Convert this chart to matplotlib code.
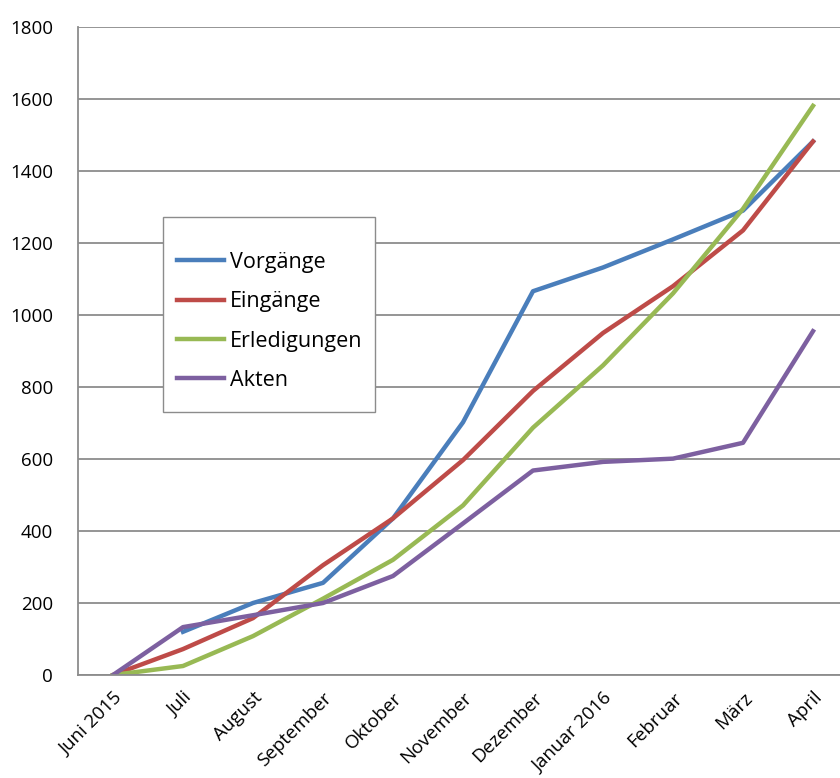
import matplotlib
matplotlib.use('Agg')
import matplotlib.pyplot as plt
from matplotlib.patches import Rectangle
import numpy as np

months = ['Juni 2015', 'Juli', 'August', 'September', 'Oktober', 'November',
          'Dezember', 'Januar 2016', 'Februar', 'März', 'April']

vorgaenge = [np.nan, 120, 200, 256, 435, 702, 1066, 1132, 1210, 1290, 1482]
eingaenge = [0, 72, 158, 305, 435, 597, 789, 950, 1080, 1235, 1482]
erledigungen = [0, 25, 108, 212, 320, 471, 687, 860, 1060, 1295, 1581]
akten = [0, 133, 166, 200, 275, 421, 568, 592, 601, 645, 955]

plt.rcParams['font.family'] = ['Open Sans', 'DejaVu Sans']

fig = plt.figure(figsize=(8.4, 7.78), dpi=100)
ax = fig.add_axes([78/840, 1-675/778, 770/840, 648/778])

x = np.arange(len(months))
LW = 3.2
ax.plot(x, vorgaenge, color='#4A7EBB', lw=LW, label='Vorgänge')
ax.plot(x, eingaenge, color='#BE4B48', lw=LW, label='Eingänge')
ax.plot(x, erledigungen, color='#98B954', lw=LW, label='Erledigungen')
ax.plot(x, akten, color='#7D60A0', lw=LW, label='Akten')

ax.set_xlim(-0.5, len(months) - 0.5)
ax.set_ylim(0, 1800)
ax.set_yticks(np.arange(0, 1801, 200))
ax.yaxis.grid(True, color='#8c8c8c', lw=1.3)
ax.set_axisbelow(True)
ax.set_xticks(x)
ax.set_xticklabels(months, rotation=45, ha='right', rotation_mode='anchor', fontsize=13.5)
ax.tick_params(axis='y', labelsize=13.5, length=0, pad=18)
ax.tick_params(axis='x', length=0, pad=10)

for s in ['top', 'right']:
    ax.spines[s].set_visible(False)
ax.spines['left'].set_color('#8c8c8c')
ax.spines['left'].set_linewidth(1.3)
ax.spines['bottom'].set_color('#8c8c8c')
ax.spines['bottom'].set_linewidth(1.3)

# legend frame drawn separately (Excel style box)
box = Rectangle((163/840, 1-412/778), 212/840, 195/778, transform=fig.transFigure,
                facecolor='white', edgecolor='#8c8c8c', lw=1.0, zorder=5, clip_on=False)
ax.add_patch(box)
leg = ax.legend(loc='upper left', bbox_to_anchor=(177/840, 1-252/778),
                bbox_transform=fig.transFigure,
                fontsize=15.5, frameon=False, borderpad=0,
                labelspacing=0.85, handlelength=2.2, handletextpad=0.25,
                borderaxespad=0)
leg.set_zorder(6)

fig.savefig('out.png', dpi=100)
